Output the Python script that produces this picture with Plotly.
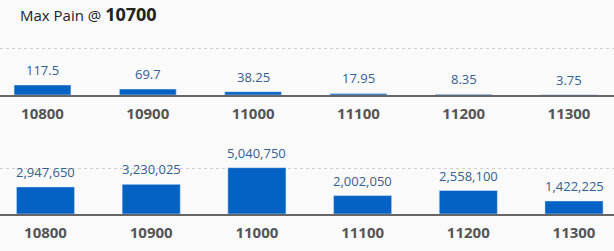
import plotly.graph_objects as go

strikes = ["10800", "10900", "11000", "11100", "11200", "11300"]
premium = [117.5, 69.7, 38.25, 17.95, 8.35, 3.75]
premium_labels = ["117.5", "69.7", "38.25", "17.95", "8.35", "3.75"]
oi = [2947650, 3230025, 5040750, 2002050, 2558100, 1422225]
max_pain = "10700"

BAR = "#0462c4"
LBL = "#34608e"
FONT = "Open Sans, Noto Sans, sans-serif"

xs = list(range(len(strikes)))
fig = go.Figure()
fig.add_trace(go.Bar(x=xs, y=premium, marker_color=BAR, width=0.54,
                     xaxis="x", yaxis="y", hoverinfo="skip"))
fig.add_trace(go.Bar(x=xs, y=oi, marker_color=BAR, width=0.55,
                     xaxis="x2", yaxis="y2", hoverinfo="skip"))

annotations = []
for i, (v, t) in enumerate(zip(premium, premium_labels)):
    annotations.append(dict(x=i, y=v, xref="x", yref="y", text=t, showarrow=False,
                            yanchor="bottom", yshift=4,
                            font=dict(family=FONT, size=13, color=LBL)))
for i, v in enumerate(oi):
    annotations.append(dict(x=i, y=v, xref="x2", yref="y2", text=f"{v:,}", showarrow=False,
                            yanchor="bottom", yshift=4,
                            font=dict(family=FONT, size=13, color=LBL)))
annotations.append(dict(x=18 / 614, y=1 - 14 / 251, xref="paper", yref="paper",
                        xanchor="left", yanchor="middle", showarrow=False,
                        text="Max Pain @ <b style='font-size:18px'>" + max_pain + "</b>",
                        font=dict(family=FONT, size=15, color="#222")))

H = 251
def py(px):
    return 1 - px / H

top_scale = 10 / 117.5      # px per unit
bot_scale = 46.3 / 5040750

axis_common = dict(showgrid=False, zeroline=False, showline=True, linewidth=2,
                   linecolor="#666", ticks="outside", ticklen=4, tickcolor="rgba(0,0,0,0)",
                   tickvals=xs, ticktext=strikes,
                   tickfont=dict(family=FONT, size=15, color="#555", weight="bold"))

fig.update_layout(
    width=614, height=251, margin=dict(l=0, r=0, t=0, b=0),
    paper_bgcolor="#fafafa", plot_bgcolor="#fafafa",
    showlegend=False, annotations=annotations,
    xaxis=dict(domain=[0, 1], anchor="y",
               range=[-42.5 / 105.3, (614 - 42.5) / 105.3], **axis_common),
    yaxis=dict(domain=[py(95), py(30)], range=[0, 65 / top_scale],
               tickvals=[47 / top_scale], showticklabels=False, showgrid=True,
               gridcolor="#d0d0d0", griddash="dot", gridwidth=1, zeroline=False,
               showline=False),
    xaxis2=dict(domain=[0, 1], anchor="y2",
                range=[-45.5 / 105.7, (614 - 45.5) / 105.7], **axis_common),
    yaxis2=dict(domain=[py(214), py(140)], range=[0, 74 / bot_scale],
                tickvals=[5000000], showticklabels=False, showgrid=True,
                gridcolor="#d0d0d0", griddash="dot", gridwidth=1, zeroline=False,
                showline=False),
)
fig.write_html("out.html")
